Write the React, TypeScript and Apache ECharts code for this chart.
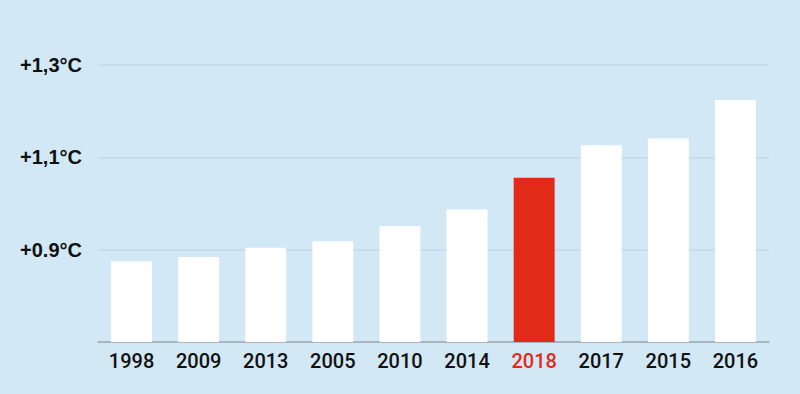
import React, { useEffect, useRef } from "react";
import * as echarts from "echarts";

const years = ["1998", "2009", "2013", "2005", "2010", "2014", "2018", "2017", "2015", "2016"];
const anomalies = [0.875, 0.884, 0.904, 0.918, 0.951, 0.987, 1.056, 1.126, 1.141, 1.224];
const highlightYear = "2018";
const yTickValues = [0.9, 1.1, 1.3];
const yTickLabels = ["+0.9°C", "+1,1°C", "+1,3°C"];

const BG = "#d3e8f5";
const RED = "#e12a17";

export default function App() {
  const ref = useRef<HTMLDivElement>(null);
  useEffect(() => {
    if (!ref.current) return;
    const chart = echarts.init(ref.current, null, { renderer: "svg" });
    chart.setOption({
      animation: false,
      backgroundColor: BG,
      grid: { left: 98, right: 31, top: 65, bottom: 52, containLabel: false },
      xAxis: {
        type: "category",
        data: years,
        axisLine: { show: true, lineStyle: { color: "#9aa5ad", width: 1.5 } },
        axisTick: { show: false },
        axisLabel: {
          margin: 9,
          fontFamily: "Roboto, Liberation Sans, Arial, sans-serif",
          fontWeight: 500,
          fontSize: 20,
          color: (v: string) => (v === highlightYear ? RED : "#111111"),
        },
      },
      yAxis: {
        type: "value",
        min: 0.7,
        max: 1.3,
        interval: 0.1,
        axisLine: { show: false },
        axisTick: { show: false },
        splitLine: { show: false },
        axisLabel: {
          margin: 16,
          fontFamily: "Liberation Sans, Arial, sans-serif",
          fontWeight: "bold",
          fontSize: 20,
          color: "#111111",
          formatter: (v: number) => {
            const i = yTickValues.findIndex((t) => Math.abs(t - v) < 1e-6);
            return i >= 0 ? yTickLabels[i] : "";
          },
        },
      },
      series: [
        {
          type: "bar",
          data: years.map((y, i) => ({
            value: anomalies[i],
            itemStyle: { color: y === highlightYear ? RED : "#ffffff" },
          })),
          barWidth: "61%",
          markLine: {
            silent: true,
            symbol: "none",
            label: { show: false },
            lineStyle: { color: "#c4dae9", type: "solid", width: 1.5 },
            data: yTickValues.map((v) => ({ yAxis: v })),
            z: 0,
          },
        },
      ],
    });
    return () => chart.dispose();
  }, []);
  return (
    <div
      ref={ref}
      style={{ position: "absolute", left: 0, top: 0, width: 800, height: 394 }}
    />
  );
}
